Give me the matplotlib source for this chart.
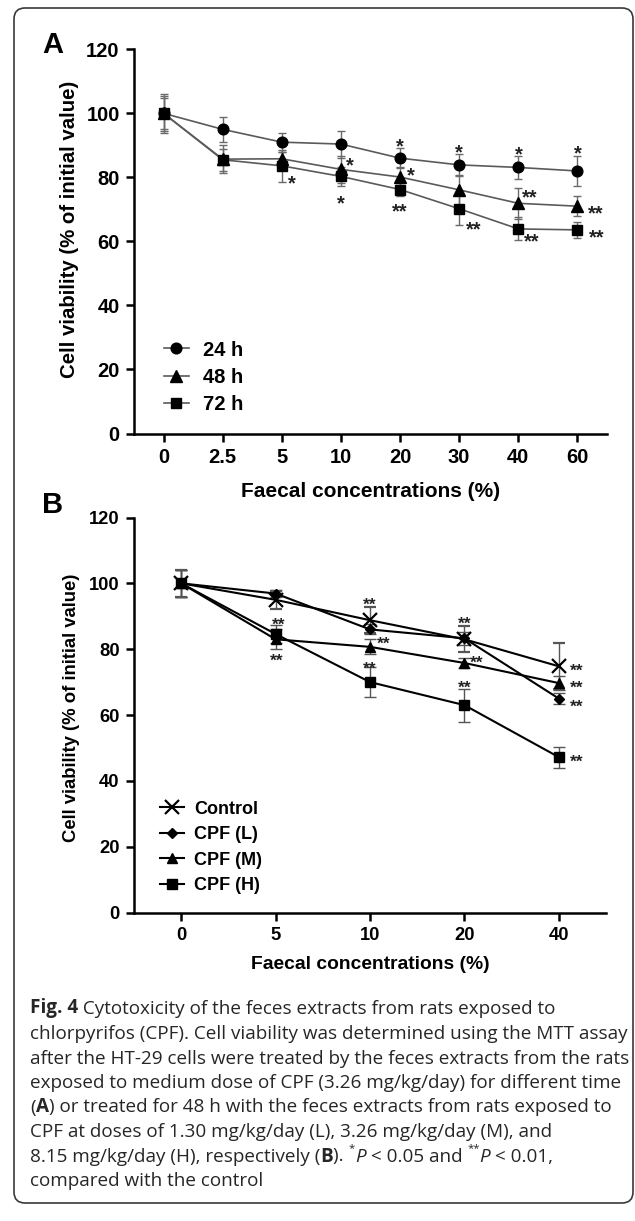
import matplotlib
matplotlib.use("Agg")
import matplotlib.pyplot as plt
from matplotlib.patches import FancyBboxPatch
from matplotlib.transforms import IdentityTransform

W, H, DPI = 635, 1221, 100

# ---------------- Data: panel A ----------------
conc_a = ['0', '2.5', '5', '10', '20', '30', '40', '60']
labels_a = ['24 h', '48 h', '72 h']
mean_24h = [100, 95.0, 91.0, 90.4, 86.0, 83.9, 83.1, 82.0]
err_24h = [6.0, 4.0, 3.0, 4.2, 3.1, 3.4, 3.5, 4.7]
mean_48h = [100, 85.7, 85.8, 82.5, 80.1, 76.1, 71.9, 71.0]
err_48h = [5.4, 4.4, 2.0, 4.3, 3.0, 4.6, 4.9, 3.1]
mean_72h = [100, 85.5, 83.6, 80.3, 76.2, 70.2, 63.9, 63.6]
err_72h = [4.8, 3.4, 5.0, 3.0, 2.0, 5.0, 3.6, 2.6]

# ---------------- Data: panel B ----------------
conc_b = ['0', '5', '10', '20', '40']
labels_b = ['Control', 'CPF (L)', 'CPF (M)', 'CPF (H)']
mean_ctrl = [100, 95.0, 88.8, 83.0, 74.8]
err_ctrl = [4.0, 2.8, 4.0, 4.0, 7.0]
mean_L = [100, 96.9, 86.0, 83.3, 65.0]
err_L = [4.0, 1.0, 1.5, 2.0, 1.8]
mean_M = [100, 83.0, 80.7, 75.8, 69.7]
err_M = [4.0, 3.0, 2.3, 1.5, 2.0]
mean_H = [100, 84.6, 70.0, 63.0, 47.2]
err_H = [4.0, 2.7, 4.5, 5.0, 3.2]

yticks = [0, 20, 40, 60, 80, 100, 120]

# significance marks: (series label, point index, text, alignment, x offset px, y offset in data units)
sig_a = [
    ('24 h', 4, '*', 'center', 0, 5.2), ('24 h', 5, '*', 'center', 0, 5.7),
    ('24 h', 6, '*', 'center', 0, 5.7), ('24 h', 7, '*', 'center', 0, 7.1),
    ('48 h', 3, '*', 'left', 5, 2.8), ('48 h', 4, '*', 'left', 7, 2.2),
    ('48 h', 6, '**', 'left', 4, 3.6), ('48 h', 7, '**', 'left', 10, -0.6),
    ('72 h', 2, '*', 'left', 6, -3.8), ('72 h', 3, '*', 'center', 0, -6.8),
    ('72 h', 4, '**', 'center', 0, -5.3), ('72 h', 5, '**', 'left', 7, -4.8),
    ('72 h', 6, '**', 'left', 6, -2.1), ('72 h', 7, '**', 'left', 11, -0.8),
]
sig_b = [
    ('CPF (H)', 1, '**', 'center', 3, 4.1), ('CPF (M)', 1, '**', 'center', 1, -5.0),
    ('Control', 2, '**', 'center', 0, 6.0), ('CPF (M)', 2, '**', 'left', 7, 2.3),
    ('CPF (H)', 2, '**', 'center', 0, 5.6), ('Control', 3, '**', 'center', 0, 6.3),
    ('CPF (M)', 3, '**', 'left', 6, 1.4), ('CPF (H)', 3, '**', 'center', 0, 6.6),
    ('Control', 4, '**', 'left', 11, 0.0), ('CPF (M)', 4, '**', 'left', 11, 0.0),
    ('CPF (L)', 4, '**', 'left', 11, -1.0), ('CPF (H)', 4, '**', 'left', 11, 0.0),
]

caption_lines = [
    [("Fig. 4", 'b'), (" Cytotoxicity of the feces extracts from rats exposed to", 'n')],
    [("chlorpyrifos (CPF). Cell viability was determined using the MTT assay", 'n')],
    [("after the HT-29 cells were treated by the feces extracts from the rats", 'n')],
    [("exposed to medium dose of CPF (3.26 mg/kg/day) for different time", 'n')],
    [("(", 'n'), ("A", 'b'), (") or treated for 48 h with the feces extracts from rats exposed to", 'n')],
    [("CPF at doses of 1.30 mg/kg/day (L), 3.26 mg/kg/day (M), and", 'n')],
    [("8.15 mg/kg/day (H), respectively (", 'n'), ("B", 'b'), ("). ", 'n'), ("*", 'sup'),
     ("P", 'i'), (" < 0.05 and ", 'n'), ("**", 'sup'), ("P", 'i'), (" < 0.01,", 'n')],
    [("compared with the control", 'n')],
]

# ---------------- Figure ----------------
plt.rcParams['font.family'] = ['Liberation Sans', 'DejaVu Sans']
plt.rcParams['font.weight'] = 'bold'
fig = plt.figure(figsize=(W / DPI, H / DPI), dpi=DPI)
fig.patch.set_facecolor('white')


def px_rect(left, top, right, bottom):
    return [left / W, 1 - bottom / H, (right - left) / W, (bottom - top) / H]


def style_axes(ax, cats, fs, lw=1.8):
    for s in ['top', 'right']:
        ax.spines[s].set_visible(False)
    for s in ['left', 'bottom']:
        ax.spines[s].set_linewidth(lw)
    ax.set_xlim(-0.5, len(cats) - 0.5)
    ax.set_ylim(0, 120)
    ax.set_yticks(yticks)
    ax.set_xticks(range(len(cats)), cats)
    ax.tick_params(width=lw, length=6, labelsize=fs, pad=4.3)
    for t in ax.get_xticklabels() + ax.get_yticklabels():
        t.set_fontweight('bold')


def add_sig(ax, sig, lookup, fs):
    for lab, i, txt, ha, dx, dy in sig:
        y = lookup[lab][i] + dy
        ax.annotate(txt, xy=(i, y), xytext=(dx * 0.72, -0.56 * fs),
                    textcoords='offset points', ha=ha, va='baseline',
                    fontsize=fs, fontweight='bold', color='#222222')


# ----- Panel A -----
axA = fig.add_axes(px_rect(134, 49.3, 607, 433.5))
fsA = 14.5
x_a = list(range(len(conc_a)))
contA = []
for m, e, lab, mk, ms in [(mean_24h, err_24h, '24 h', 'o', 7.7),
                          (mean_48h, err_48h, '48 h', '^', 8.4),
                          (mean_72h, err_72h, '72 h', 's', 7.2)]:
    c = axA.errorbar(x_a, m, yerr=e, fmt='-', marker=mk, ms=ms, color='#5a5a5a', lw=1.2,
                     mfc='black', mec='black', ecolor='#6a6a6a', elinewidth=1.0,
                     capsize=3.2, capthick=1.0, label=lab)
    contA.append(c)
style_axes(axA, conc_a, fsA)
add_sig(axA, sig_a, {'24 h': mean_24h, '48 h': mean_48h, '72 h': mean_72h}, fsA)
axA.set_xlabel('Faecal concentrations (%)', fontsize=15, fontweight='bold')
axA.xaxis.set_label_coords(0.5, -0.126)
axA.set_ylabel('Cell viability (% of initial value)', fontsize=14.7, fontweight='bold')
axA.yaxis.set_label_coords(-0.116, 0.532)
axA.legend(handles=[c[0] for c in contA], labels=labels_a, loc='upper left',
           bbox_to_anchor=(0.063, 0.242), frameon=False, borderpad=0, borderaxespad=0,
           handlelength=1.24, handletextpad=0.72, labelspacing=0.42,
           prop={'size': 14.5, 'weight': 'bold'})

# ----- Panel B -----
axB = fig.add_axes(px_rect(134, 517.5, 606, 912.5))
fsB = 13.2
x_b = list(range(len(conc_b)))
contB = []
for m, e, lab, mk, ms in [(mean_ctrl, err_ctrl, 'Control', 'x', 9.5),
                          (mean_L, err_L, 'CPF (L)', 'D', 5.4),
                          (mean_M, err_M, 'CPF (M)', '^', 7.7),
                          (mean_H, err_H, 'CPF (H)', 's', 6.7)]:
    c = axB.errorbar(x_b, m, yerr=e, fmt='-', marker=mk, ms=ms, color='black', lw=1.5,
                     mfc='black', mec='black', mew=1.6 if mk == 'x' else 1.0,
                     ecolor='#555555', elinewidth=1.0, capsize=4.5, capthick=1.0, label=lab)
    contB.append(c)
style_axes(axB, conc_b, fsB)
add_sig(axB, sig_b, {'Control': mean_ctrl, 'CPF (L)': mean_L, 'CPF (M)': mean_M,
                     'CPF (H)': mean_H}, 12.5)
axB.set_xlabel('Faecal concentrations (%)', fontsize=13.9, fontweight='bold')
axB.xaxis.set_label_coords(0.5, -0.111)
axB.set_ylabel('Cell viability (% of initial value)', fontsize=13.3, fontweight='bold')
axB.yaxis.set_label_coords(-0.115, 0.519)
axB.legend(handles=[c[0] for c in contB], labels=labels_b, loc='upper left',
           bbox_to_anchor=(0.055, 0.283), frameon=False, borderpad=0, borderaxespad=0,
           handlelength=1.34, handletextpad=0.57, labelspacing=0.47,
           prop={'size': 13, 'weight': 'bold'})

# panel letters
fig.text(42 / W, 1 - 53 / H, 'A', fontsize=21, fontweight='bold', va='baseline', ha='left')
fig.text(42 / W, 1 - 513 / H, 'B', fontsize=21, fontweight='bold', va='baseline', ha='left')

# ----- Caption -----
renderer = fig.canvas.get_renderer()
CAP_FONT = ['Open Sans', 'DejaVu Sans']
CAP_COLOR = '#262626'


def run_kw(style, size):
    kw = dict(family=CAP_FONT, color=CAP_COLOR, fontsize=size, fontweight='normal')
    if style == 'b':
        kw['fontweight'] = 'bold'
    elif style == 'i':
        kw['fontstyle'] = 'italic'
    elif style == 'sup':
        kw['fontsize'] = size * 0.6
    return kw


def measure(txt, kw):
    t1 = fig.text(0, 0, txt + '|', **kw)
    t2 = fig.text(0, 0, '|', **kw)
    w = t1.get_window_extent(renderer).width - t2.get_window_extent(renderer).width
    t1.remove(); t2.remove()
    return w


# fit font size so the second caption line spans its measured width
ref_size = 12.0
ref_w = sum(measure(t, run_kw(s, ref_size)) for t, s in caption_lines[1])
cap_size = ref_size * 595.0 / ref_w

baselines = [1013.5, 1039, 1064, 1088.5, 1112.5, 1137, 1161.5, 1186]
for line, yb in zip(caption_lines, baselines):
    x = 30.0
    for txt, style in line:
        kw = run_kw(style, cap_size)
        yy = yb - (cap_size * 0.55 / 0.72 if style == 'sup' else 0)
        fig.text(x / W, 1 - yy / H, txt, va='baseline', ha='left', **kw)
        x += measure(txt, kw)

# rounded frame
frame = FancyBboxPatch((14, H - 1203), 633 - 14, 1203 - 8,
                       boxstyle='round,pad=0,rounding_size=11',
                       transform=IdentityTransform(), fill=False,
                       edgecolor='#3a3a3a', linewidth=1.2)
fig.add_artist(frame)

fig.savefig('out.png', dpi=DPI, facecolor='white')
